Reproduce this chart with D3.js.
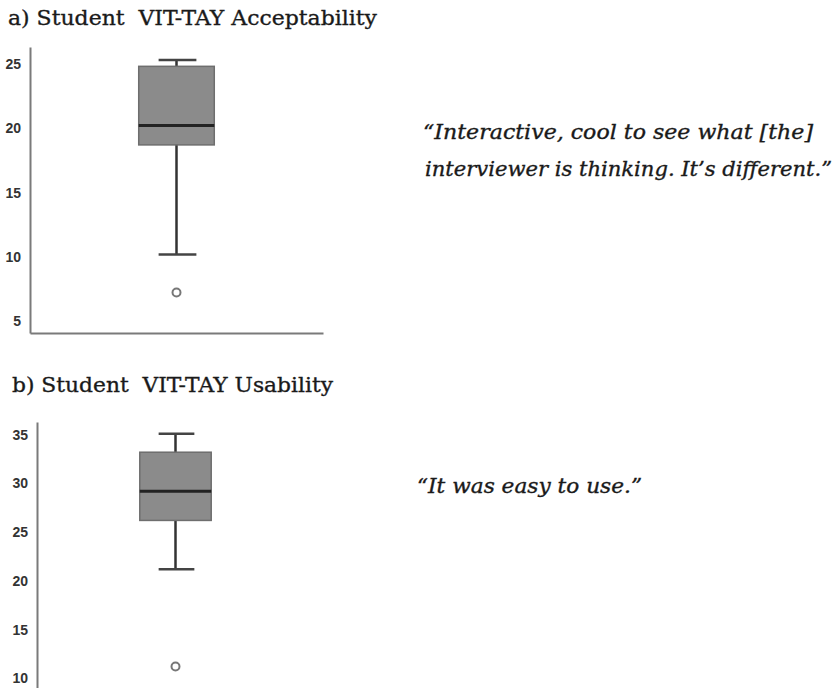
<!DOCTYPE html>
<html>
<head>
<meta charset="utf-8">
<script src="https://cdn.jsdelivr.net/npm/d3@7"></script>
<style>
  body { margin: 0; background: #fff; }
  .title { font-family: "DejaVu Serif", serif; font-size: 21px; fill: #1a1a1a; stroke: #1a1a1a; stroke-width: 0.35px; white-space: pre; }
  .quote { font-family: "DejaVu Serif", serif; font-style: italic; font-size: 20px; fill: #1a1a1a; stroke: #1a1a1a; stroke-width: 0.35px; }
  .axis text { font-family: "Liberation Sans Narrow", "Liberation Sans", sans-serif; font-weight: bold; font-size: 14px; fill: #333; }
  .axis path { stroke: #7a7a7a; stroke-width: 2px; }
</style>
</head>
<body>
<div class="chart"></div>
<script>
// panel a) acceptability
const catA = ['Acceptability']
const ticksA = [5, 10, 15, 20, 25]
const statsA = [{ min: 10.2, q1: 18.7, median: 20.2, q3: 24.8, max: 25.3 }]
const outliersA = [7.25]

// panel b) usability
const catB = ['Usability']
const ticksB = [10, 15, 20, 25, 30, 35]
const statsB = [{ min: 21.2, q1: 26.2, median: 29.2, q3: 33.2, max: 35.1 }]
const outliersB = [11.2]

const titles = ['a) Student  VIT-TAY Acceptability', 'b) Student  VIT-TAY Usability']
const quoteA = ['\u201cInteractive, cool to see what [the]', 'interviewer is thinking. It\u2019s different.\u201d']
const quoteB = ['\u201cIt was easy to use.\u201d']

const svg = d3.select('.chart')
  .append('svg')
    .attr('width', 836)
    .attr('height', 688)

//draws one box plot panel
function boxPanel (cfg) {
  const x = d3.scaleBand()
    .domain(cfg.cats)
    .range(cfg.xRange)
    .padding(cfg.pad)
  const y = d3.scaleLinear()
    .domain(cfg.yDomain)
    .range(cfg.yRange)

  const g = svg.append('g')

  g.append('g')
    .attr('class', 'axis')
    .attr('transform', `translate(${cfg.xRange[0]},0)`)
    .call(d3.axisLeft(y).tickValues(cfg.ticks).tickSize(0).tickPadding(9).tickSizeOuter(0))

  g.append('g')
    .attr('class', 'axis')
    .attr('transform', `translate(0,${cfg.yRange[0]})`)
    .call(d3.axisBottom(x).tickValues([]).tickSizeOuter(0))

  const cx = d => x(cfg.cats[0]) + x.bandwidth() / 2
  const capW = x.bandwidth() * 0.5

  //whiskers
  g.selectAll('.whisker')
    .data(cfg.stats)
    .enter().append('line')
      .attr('x1', cx).attr('x2', cx)
      .attr('y1', d => y(d.max)).attr('y2', d => y(d.min))
      .attr('stroke', '#333').attr('stroke-width', 2.5)

  //caps
  g.selectAll('.cap')
    .data(cfg.stats.flatMap(d => [d.min, d.max]))
    .enter().append('line')
      .attr('x1', d => cx() - capW / 2 + 1).attr('x2', d => cx() + capW / 2 + 1)
      .attr('y1', d => y(d)).attr('y2', d => y(d))
      .attr('stroke', '#444').attr('stroke-width', 2.5)

  //box
  g.selectAll('.box')
    .data(cfg.stats)
    .enter().append('rect')
      .attr('x', x(cfg.cats[0]))
      .attr('width', x.bandwidth())
      .attr('y', d => y(d.q3))
      .attr('height', d => y(d.q1) - y(d.q3))
      .attr('fill', '#8b8b8b')
      .attr('stroke', '#6e6e6e')
      .attr('stroke-width', 1.5)

  //median
  g.selectAll('.median')
    .data(cfg.stats)
    .enter().append('line')
      .attr('x1', x(cfg.cats[0])).attr('x2', x(cfg.cats[0]) + x.bandwidth())
      .attr('y1', d => y(d.median)).attr('y2', d => y(d.median))
      .attr('stroke', '#222').attr('stroke-width', 3)

  //outliers
  g.selectAll('circle')
    .data(cfg.outliers)
    .enter().append('circle')
      .attr('cx', cx)
      .attr('cy', d => y(d))
      .attr('r', 4)
      .attr('fill', '#fff')
      .attr('stroke', '#777')
      .attr('stroke-width', 2)
}

boxPanel({ cats: catA, ticks: ticksA, stats: statsA, outliers: outliersA,
  xRange: [30, 323], pad: 0.59, yDomain: [4.1, 26.3], yRange: [333, 47] })

boxPanel({ cats: catB, ticks: ticksB, stats: statsB, outliers: outliersB,
  xRange: [37, 314], pad: 0.59, yDomain: [8.9, 36.3], yRange: [689, 422] })

//titles
svg.selectAll('.title')
  .data(titles)
  .enter().append('text')
    .attr('class', 'title')
    .attr('x', (d, i) => i === 0 ? 8 : 12)
    .attr('y', (d, i) => i === 0 ? 25 : 392)
    .attr('textLength', (d, i) => i === 0 ? 369 : 321)
    .attr('lengthAdjust', 'spacingAndGlyphs')
    .text(d => d)

//quotes
svg.selectAll('.quote-a')
  .data(quoteA)
  .enter().append('text')
    .attr('class', 'quote')
    .attr('x', (d, i) => i === 0 ? 423 : 425)
    .attr('y', (d, i) => i === 0 ? 139 : 176)
    .attr('textLength', (d, i) => i === 0 ? 390 : 407)
    .attr('lengthAdjust', 'spacingAndGlyphs')
    .text(d => d)

svg.selectAll('.quote-b')
  .data(quoteB)
  .enter().append('text')
    .attr('class', 'quote')
    .attr('x', 417)
    .attr('y', 493)
    .attr('textLength', 225)
    .attr('lengthAdjust', 'spacingAndGlyphs')
    .text(d => d)
</script>
</body>
</html>
